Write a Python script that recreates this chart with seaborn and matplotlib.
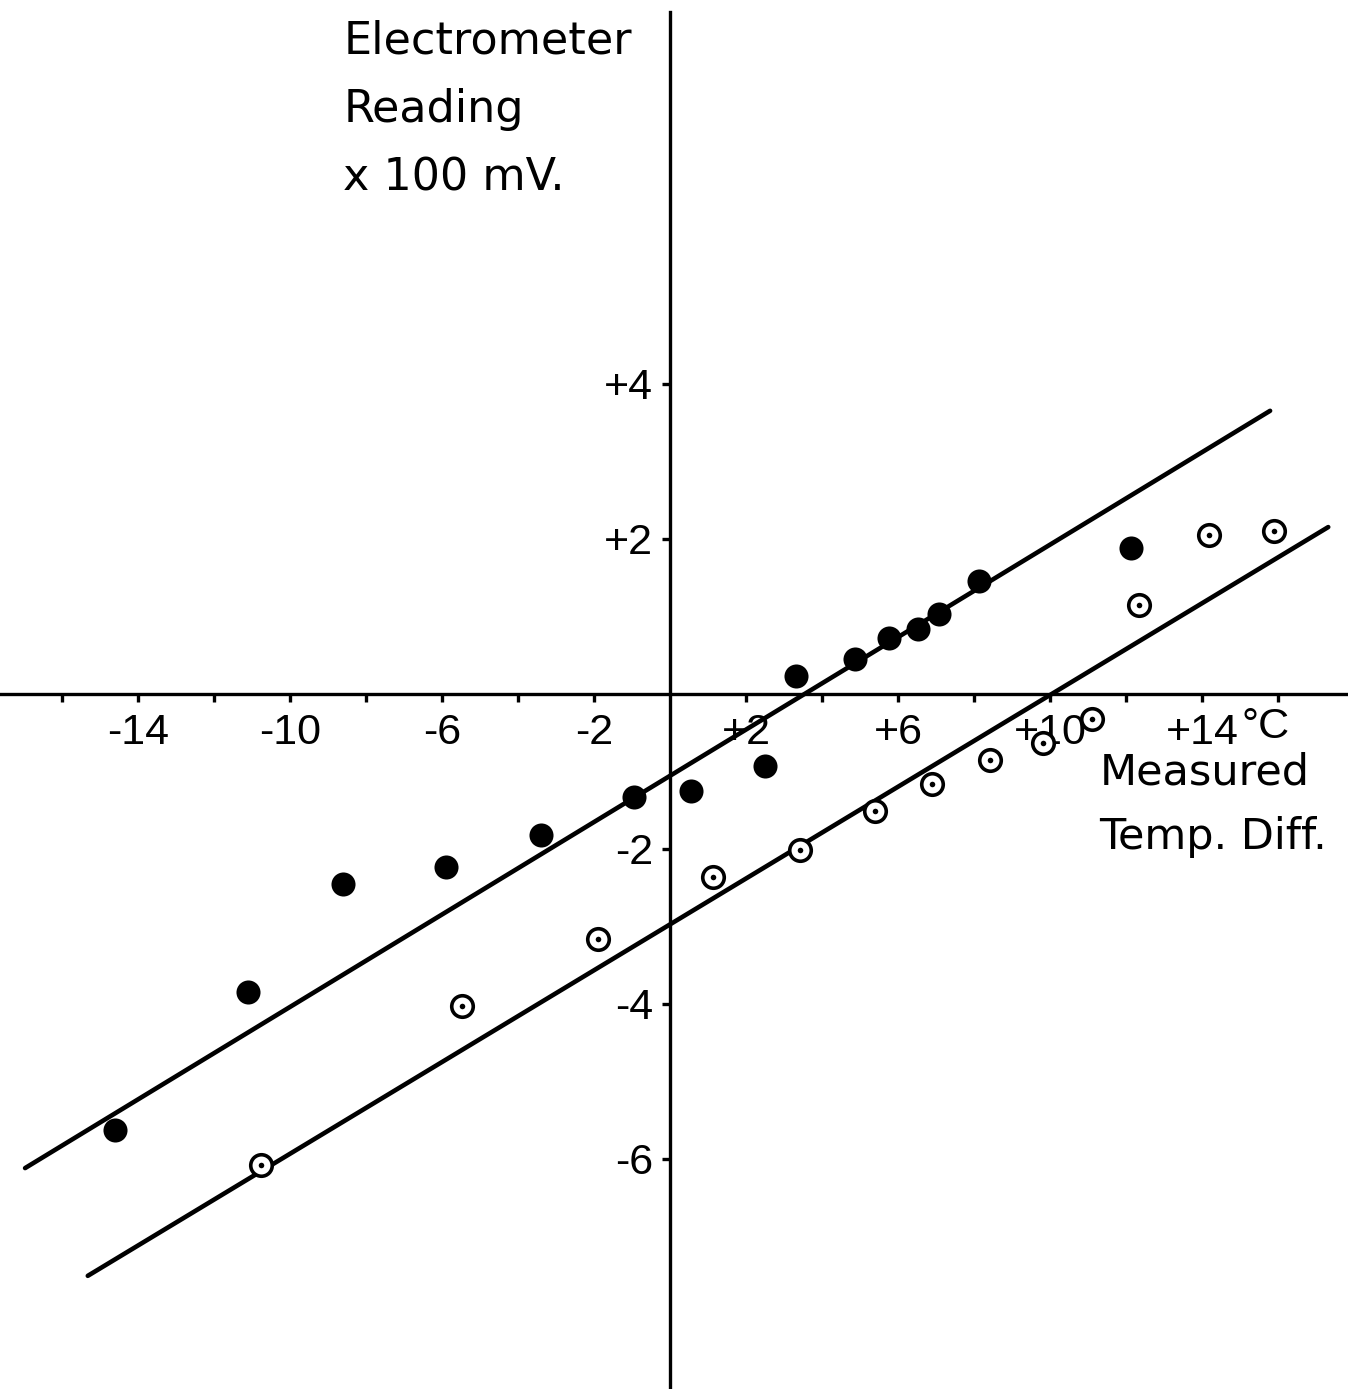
import matplotlib
matplotlib.use("Agg")
import matplotlib.pyplot as plt
import seaborn as sns

# ---- data ----
filled_x = [-14.61, -11.11, -8.61, -5.89, -3.39, -0.95, 0.55, 2.50, 3.32, 4.87, 5.76, 6.53, 7.08, 8.13, 12.13]
filled_y = [-5.63, -3.85, -2.45, -2.23, -1.82, -1.33, -1.25, -0.93, 0.23, 0.45, 0.72, 0.84, 1.03, 1.45, 1.88]

open_x = [-10.76, -5.47, -1.89, 1.13, 3.42, 5.39, 6.89, 8.42, 9.82, 11.11, 12.34, 14.18, 15.89]
open_y = [-6.08, -4.03, -3.17, -2.36, -2.01, -1.51, -1.17, -0.86, -0.63, -0.32, 1.14, 2.05, 2.10]

upper_line_x = [-16.97, 15.79]
upper_line_y = [-6.12, 3.65]
lower_line_x = [-15.32, 17.32]
lower_line_y = [-7.51, 2.15]

xtick_major = [-14, -10, -6, -2, 2, 6, 10, 14]
xtick_major_labels = ['-14', '-10', '-6', '-2', '+2', '+6', '+10', '+14']
xtick_minor = [-16, -12, -8, -4, 4, 8, 12, 16]
ytick_vals = [4, 2, -2, -4, -6]
ytick_labels = ['+4', '+2', '-2', '-4', '-6']

sns.set_theme(style="white")
plt.rcParams['font.family'] = ['DejaVu Sans']

fig = plt.figure(figsize=(13.48, 13.89), dpi=100)
ax = fig.add_axes([0, 0, 1, 1])
ax.set_xlim(-17.63, 17.84)
ax.set_ylim(-8.97, 8.95)

# axes through the origin
for s in ['top', 'right']:
    ax.spines[s].set_visible(False)
ax.spines['left'].set_position(('data', 0))
ax.spines['bottom'].set_position(('data', 0))
for s in ['left', 'bottom']:
    ax.spines[s].set_color('black')
    ax.spines[s].set_linewidth(2.4)
    ax.spines[s].set_zorder(1)
ax.spines['left'].set_bounds(-8.97, 8.8)

ax.set_xticks(xtick_major)
ax.set_xticklabels(xtick_major_labels, family=['Liberation Sans', 'DejaVu Sans'])
ax.set_xticks(xtick_minor, minor=True)
ax.set_yticks(ytick_vals)
ax.set_yticklabels(ytick_labels, family=['Liberation Sans', 'DejaVu Sans'])
ax.tick_params(axis='x', which='both', direction='out', length=6, width=2.4,
               color='black', labelcolor='black', bottom=True, labelsize=31, pad=8)
ax.tick_params(axis='y', which='both', direction='out', length=6, width=2.4,
               color='black', labelcolor='black', left=True, labelsize=31, pad=6)
ax.grid(False)

# fitted lines
sns.lineplot(x=upper_line_x, y=upper_line_y, ax=ax, color='black', linewidth=3.3,
             sort=False, estimator=None, solid_capstyle='round', zorder=2)
sns.lineplot(x=lower_line_x, y=lower_line_y, ax=ax, color='black', linewidth=3.3,
             sort=False, estimator=None, solid_capstyle='round', zorder=2)

# filled points
sns.scatterplot(x=filled_x, y=filled_y, ax=ax, s=300, color='black',
                edgecolor='black', linewidth=0, zorder=3)
# open points with centre dot
sns.scatterplot(x=open_x, y=open_y, ax=ax, s=240, facecolor='white',
                edgecolor='black', linewidth=2.6, zorder=3)
sns.scatterplot(x=open_x, y=open_y, ax=ax, s=16, color='black',
                linewidth=0, zorder=4)

# axis titles
ax.text(-8.6, 8.7, "Electrometer\nReading\nx 100 mV.", fontsize=32,
        ha='left', va='top', linespacing=1.75, color='black')
ax.text(11.3, -0.74, "Measured\nTemp. Diff.", fontsize=31,
        ha='left', va='top', linespacing=1.7, color='black')
ax.text(15.05, -0.17, "°C", fontsize=31, ha='left', va='top', color='black',
        family=['Liberation Sans', 'DejaVu Sans'])

fig.savefig("out.png", dpi=100, facecolor='white')
